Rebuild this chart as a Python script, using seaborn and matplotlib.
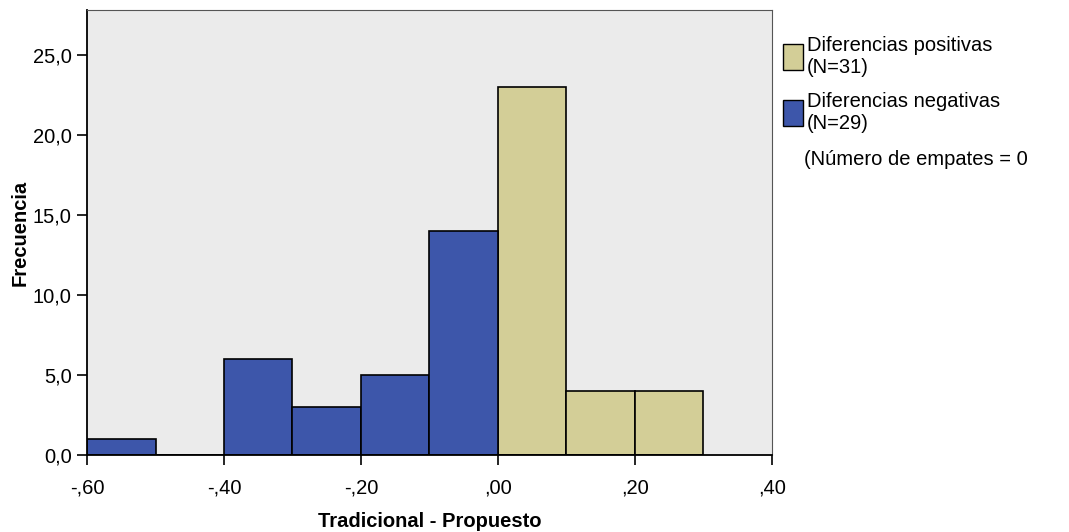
import matplotlib
matplotlib.use('Agg')
import matplotlib.pyplot as plt
from matplotlib.patches import Patch
import numpy as np
import pandas as pd
import seaborn as sns

# histogram bins (Tradicional - Propuesto) and frequencies
bin_edges = [-0.6, -0.5, -0.4, -0.3, -0.2, -0.1, 0.0, 0.1, 0.2, 0.3]
frecuencias = [1, 0, 6, 3, 5, 14, 23, 4, 4]
grupos = ['negativa'] * 6 + ['positiva'] * 3

x_ticks = [-0.6, -0.4, -0.2, 0.0, 0.2, 0.4]
x_labels = ['-,60', '-,40', '-,20', ',00', ',20', ',40']
y_ticks = [0, 5, 10, 15, 20, 25]
y_labels = ['0,0', '5,0', '10,0', '15,0', '20,0', '25,0']

legend_labels = ['Diferencias positivas\n(N=31)', 'Diferencias negativas\n(N=29)']
empates_text = '(Número de empates = 0'

color_pos = '#D3CE97'
color_neg = '#3D56AA'

centros = [(bin_edges[i] + bin_edges[i + 1]) / 2 for i in range(len(frecuencias))]
df = pd.DataFrame({'centro': centros, 'frecuencia': frecuencias, 'grupo': grupos})

sns.set_style('white')
plt.rcParams['font.family'] = ['Liberation Sans', 'DejaVu Sans']
plt.rcParams['text.color'] = 'black'
plt.rcParams['axes.labelcolor'] = 'black'

fig = plt.figure(figsize=(10.69, 5.32), dpi=100)
ax = fig.add_axes([0.0814, 0.1447, 0.6407, 0.8365])
ax.set_facecolor('#EBEBEB')

sns.histplot(data=df, x='centro', weights='frecuencia', hue='grupo', bins=bin_edges,
             palette={'negativa': color_neg, 'positiva': color_pos}, alpha=1,
             edgecolor='black', linewidth=1.2, legend=False, ax=ax)

ax.set_xlim(-0.6, 0.4)
ax.set_ylim(0, 27.8)
ax.set_xticks(x_ticks)
ax.set_xticklabels(x_labels)
ax.set_yticks(y_ticks)
ax.set_yticklabels(y_labels)
ax.tick_params(axis='both', direction='out', length=7, width=1.2, colors='black',
               labelsize=14.5, left=True, bottom=True, pad=4)
ax.tick_params(axis='x', pad=10)
for side in ['top', 'right']:
    ax.spines[side].set_color('#555555')
for side in ['left', 'bottom']:
    ax.spines[side].set_color('black')
    ax.spines[side].set_linewidth(1.3)

ax.set_xlabel('Tradicional - Propuesto', fontsize=14.5, fontweight='bold', labelpad=10)
ax.set_ylabel('Frecuencia', fontsize=14.5, fontweight='bold', labelpad=2)

handles = [Patch(facecolor=color_pos, edgecolor='black'),
           Patch(facecolor=color_neg, edgecolor='black')]
fig.legend(handles, legend_labels, loc='upper left', bbox_to_anchor=(0.725, 0.948),
           frameon=False, fontsize=14.5, handlelength=1.0, handleheight=1.6,
           handletextpad=0.2, labelspacing=0.75, borderaxespad=0)
fig.text(0.752, 0.70, empates_text, fontsize=14.5, va='center')

fig.savefig('out.png', dpi=100)
